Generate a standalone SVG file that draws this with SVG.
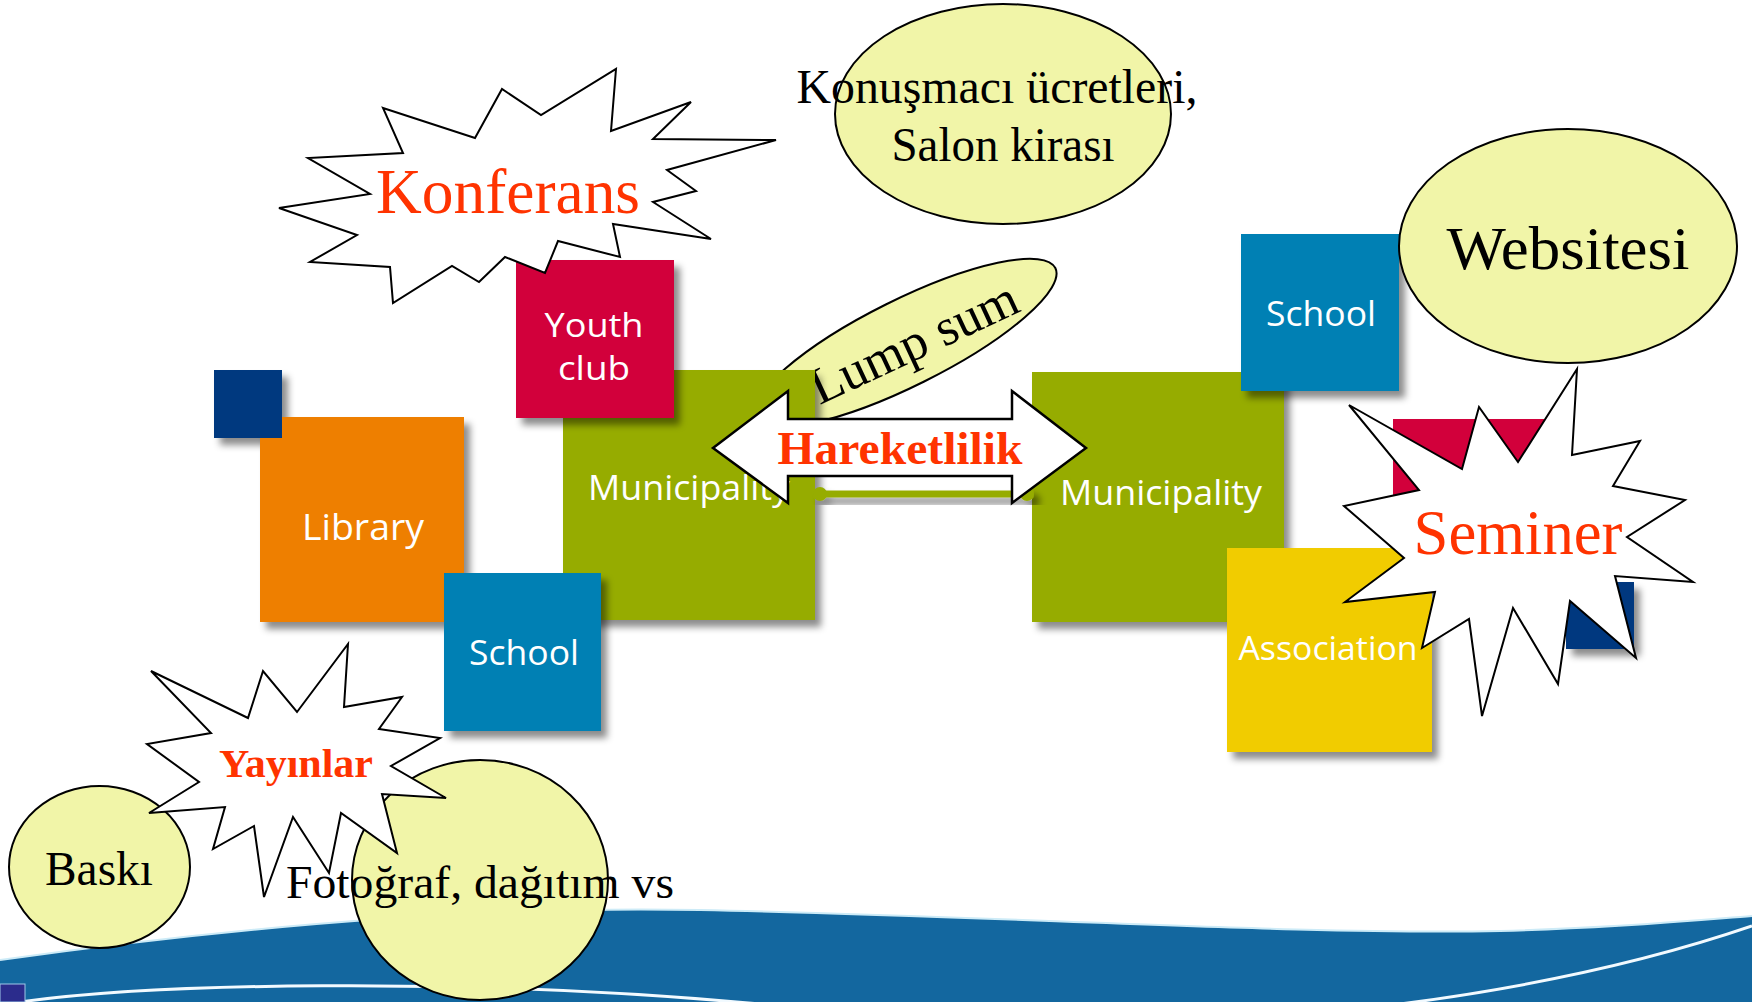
<svg xmlns="http://www.w3.org/2000/svg" width="1752" height="1002" viewBox="0 0 1752 1002">
<defs>
<filter id="sh" x="-15%" y="-15%" width="140%" height="140%">
<feDropShadow dx="6" dy="7" stdDeviation="3.5" flood-color="#000" flood-opacity="0.45"/>
</filter>
<style>
.box{filter:url(#sh)}
.navy{fill:#00397F}
.orange{fill:#EE7F00}
.green{fill:#96AC00}
.crimson{fill:#D2003B}
.blue{fill:#0280B4}
.yellow{fill:#F1CC00}
.lbl{font-family:"Open Sans","Liberation Sans",sans-serif;font-weight:500;fill:#FFFFFF;text-anchor:middle}
.lbls{font-family:"Open Sans","Liberation Sans",sans-serif;font-weight:500;fill:#FFFFFF;text-anchor:start}
.bubble{fill:#F1F5A8;stroke:#000;stroke-width:2}
.star{fill:#FFFFFF;stroke:#000;stroke-width:2;stroke-linejoin:miter}
.tm{font-family:"Liberation Serif","Times New Roman",serif;fill:#000}
.red{font-family:"Liberation Serif","Times New Roman",serif;fill:#FF3300}
</style>
</defs>
<rect width="1752" height="1002" fill="#FFFFFF"/>

<g id="background">
<path d="M0,960 C200,932 450,905 700,910 C1000,916 1300,935 1500,931 C1620,928 1700,920 1752,916 L1752,1002 L0,1002 Z" fill="#13679F"/>
<path d="M0,960 C200,932 450,905 700,910 C1000,916 1300,935 1500,931 C1620,928 1700,920 1752,916" fill="none" stroke="#CDEBF7" stroke-width="2"/>
<path d="M1752,926 Q1600,978 1400,1004" fill="none" stroke="#F2FAFF" stroke-width="3"/>
<path d="M20,1002 C150,984 450,976 760,1004" fill="none" stroke="#F2FAFF" stroke-width="3"/>
<rect x="0" y="984" width="25" height="18" fill="#2B2C8C" stroke="#9FC8E8" stroke-width="1"/>
</g>

<g id="lumpsum">
<ellipse class="bubble" cx="905" cy="343" rx="168" ry="43" transform="rotate(-26.5 905 343)"/>
<text class="tm" x="921" y="358" font-size="52" text-anchor="middle" transform="rotate(-25 921 358)">Lump sum</text>
</g>

<g id="navy-left"><rect class="box navy" x="214" y="370" width="68" height="68"/></g>
<g id="library">
<rect class="box orange" x="260" y="417" width="204" height="205"/>
<text class="lbl" x="363" y="540" font-size="37" textLength="122" lengthAdjust="spacingAndGlyphs">Library</text>
</g>
<g id="navy-left-front"><rect class="navy" x="214" y="370" width="68" height="68"/></g>
<g id="municipality-left">
<rect class="box green" x="563" y="370" width="252" height="250"/>
<text class="lbls" x="588" y="500" font-size="35" textLength="202" lengthAdjust="spacingAndGlyphs">Municipality</text>
</g>
<g id="youth-club">
<rect class="box crimson" x="516" y="260" width="158" height="158"/>
<text class="lbl" x="594" y="337" font-size="33" textLength="99" lengthAdjust="spacingAndGlyphs">Youth</text>
<text class="lbl" x="594" y="380" font-size="33" textLength="72" lengthAdjust="spacingAndGlyphs">club</text>
</g>
<g id="school-left">
<rect class="box blue" x="444" y="573" width="157" height="158"/>
<text class="lbl" x="524" y="665" font-size="35" textLength="110" lengthAdjust="spacingAndGlyphs">School</text>
</g>

<g id="crimson-right"><rect class="box crimson" x="1393" y="419" width="160" height="158"/></g>
<g id="navy-right"><rect class="box navy" x="1566" y="582" width="68" height="67"/></g>
<g id="municipality-right">
<rect class="box green" x="1032" y="372" width="252" height="250"/>
<text class="lbls" x="1060" y="505" font-size="35" textLength="202" lengthAdjust="spacingAndGlyphs">Municipality</text>
</g>
<g id="school-right">
<rect class="box blue" x="1241" y="234" width="158" height="157"/>
<text class="lbl" x="1321" y="326" font-size="35" textLength="110" lengthAdjust="spacingAndGlyphs">School</text>
</g>
<g id="association">
<rect class="box yellow" x="1227" y="548" width="205" height="204"/>
<text class="lbl" x="1328" y="660" font-size="33" textLength="179" lengthAdjust="spacingAndGlyphs">Association</text>
</g>

<g id="connectors">
<g filter="url(#sh)">
<line x1="815" y1="494" x2="1032" y2="494" stroke="#96AC00" stroke-width="7"/>
<circle cx="820" cy="494" r="7" fill="#96AC00"/>
<circle cx="1027" cy="494" r="7" fill="#96AC00"/>
</g>
</g>

<g id="hareketlilik">
<polygon points="713,448 788,391 788,419 1012,419 1012,391 1086,448 1012,503 1012,476 788,476 788,503" fill="#FFFFFF" stroke="#000" stroke-width="2.5"/>
<text class="red" x="900" y="464" font-size="47" font-weight="bold" text-anchor="middle" textLength="245" lengthAdjust="spacingAndGlyphs">Hareketlilik</text>
</g>

<g id="konferans">
<polygon class="star" points="383,108 475,138 502,89 541,115 616,69 611,131 691,102 653,139 776,140 667,170 696,191 653,202 711,239 613,224 620,257 558,241 545,273 505,257 479,282 452,266 393,303 390,267 310,262 357,235 279,208 370,194 308,158 403,153"/>
<text class="red" x="508" y="213" font-size="63" text-anchor="middle" textLength="264" lengthAdjust="spacingAndGlyphs">Konferans</text>
</g>

<g id="konusmaci">
<ellipse class="bubble" cx="1003" cy="114" rx="168" ry="110"/>
<text class="tm" x="997" y="103" font-size="48" text-anchor="middle" textLength="401" lengthAdjust="spacingAndGlyphs">Konuşmacı ücretleri,</text>
<text class="tm" x="1003" y="161" font-size="48" text-anchor="middle" textLength="223" lengthAdjust="spacingAndGlyphs">Salon kirası</text>
</g>

<g id="websitesi">
<ellipse class="bubble" cx="1568" cy="246" rx="169" ry="117"/>
<text class="tm" x="1568" y="269" font-size="62" text-anchor="middle" textLength="243" lengthAdjust="spacingAndGlyphs">Websitesi</text>
</g>

<g id="seminer">
<polygon class="star" points="1349,405 1462,469 1479,407 1518,462 1577,369 1572,455 1640,441 1613,486 1685,500 1627,537 1693,582 1615,576 1636,658 1570,601 1558,684 1513,608 1482,716 1469,619 1422,648 1435,592 1345,602 1404,558 1344,506 1419,490"/>
<text class="red" x="1518" y="554" font-size="63" text-anchor="middle" textLength="209" lengthAdjust="spacingAndGlyphs">Seminer</text>
</g>

<g id="baski">
<ellipse class="bubble" cx="99.5" cy="867" rx="90.5" ry="81"/>
<text class="tm" x="99" y="885" font-size="48" text-anchor="middle" textLength="108" lengthAdjust="spacingAndGlyphs">Baskı</text>
</g>

<g id="fotograf">
<ellipse class="bubble" cx="480" cy="880" rx="128" ry="120"/>
</g>

<g id="yayinlar">
<polygon class="star" points="151,671 248,718 263,671 297,712 348,644 344,707 402,697 379,729 440,738 391,766 446,798 382,794 397,853 341,813 329,873 293,817 264,897 254,826 213,849 225,807 149,813 199,782 147,744 211,733"/>
<text class="red" x="296" y="777" font-size="41" font-weight="bold" text-anchor="middle" textLength="154" lengthAdjust="spacingAndGlyphs">Yayınlar</text>
</g>

<g id="fotograf-label">
<text class="tm" x="286" y="898" font-size="47" textLength="388" lengthAdjust="spacingAndGlyphs">Fotoğraf, dağıtım vs</text>
</g>
</svg>
